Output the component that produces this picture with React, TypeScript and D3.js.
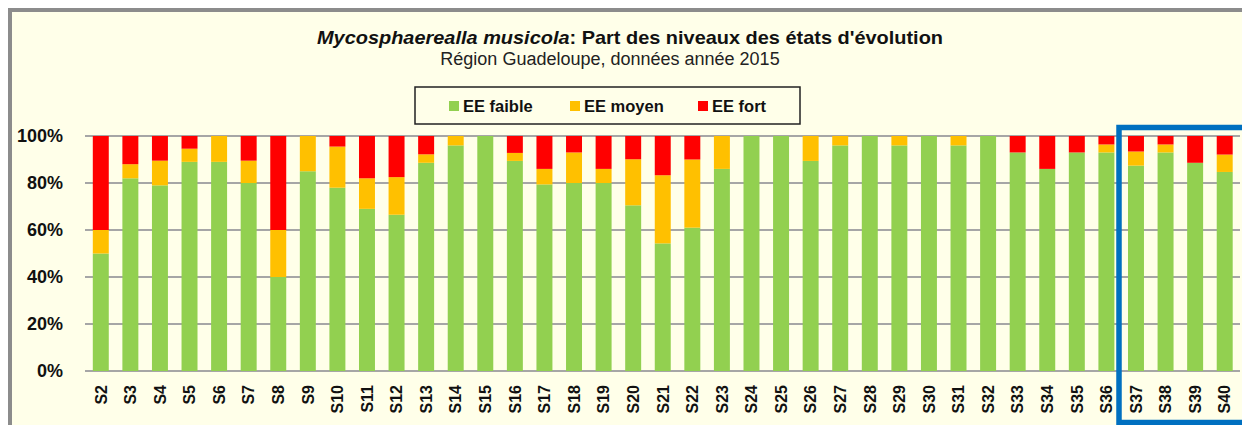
import React, { useEffect, useRef } from "react";
import * as d3 from "d3";

const weeks = [
  "S2", "S3", "S4", "S5", "S6", "S7", "S8", "S9", "S10", "S11", "S12", "S13", "S14",
  "S15", "S16", "S17", "S18", "S19", "S20", "S21", "S22", "S23", "S24", "S25", "S26",
  "S27", "S28", "S29", "S30", "S31", "S32", "S33", "S34", "S35", "S36", "S37", "S38",
  "S39", "S40",
];

// % EE faible / moyen / fort per week
const faible = [
  50, 82, 79, 89, 89, 80, 40, 85, 78, 69, 66.5, 88.6, 96, 100, 89.4, 79.4, 80, 80, 70.5,
  54.3, 61, 86, 100, 100, 89.4, 96, 100, 96, 100, 96, 100, 93, 86, 93, 93, 87.4, 93, 88.6,
  84.7,
];
const moyen = [
  10, 6, 10.5, 5.6, 11, 9.5, 20, 15, 17.5, 13, 16, 3.6, 4, 0, 3.4, 6.6, 13, 6, 19.6, 29,
  29, 14, 0, 0, 10.6, 4, 0, 4, 0, 4, 0, 0, 0, 0, 3.4, 6, 3.4, 0, 7.4,
];
const fort = [
  40, 12, 10.5, 5.4, 0, 10.5, 40, 0, 4.5, 18, 17.5, 7.8, 0, 0, 7.2, 14, 7, 14, 9.9, 16.7,
  10, 0, 0, 0, 0, 0, 0, 0, 0, 0, 0, 7, 14, 7, 3.6, 6.6, 3.6, 11.4, 7.9,
];

const seriesNames = ["EE faible", "EE moyen", "EE fort"];
const seriesColors = ["#92D050", "#FFC000", "#FF0000"];
const yTicks = [0, 20, 40, 60, 80, 100];

const font = "Liberation Sans, Arial, sans-serif";

function drawChart(container: SVGSVGElement) {
  const width = 1242;
  const height = 425;
  const svg = d3.select(container);
  svg.selectAll("*").remove();

  // chart area frame
  svg
    .append("rect")
    .attr("x", 10)
    .attr("y", 10)
    .attr("width", 1300)
    .attr("height", 500)
    .attr("fill", "#FFFFE9")
    .attr("stroke", "#8c8c8c")
    .attr("stroke-width", 4);

  const x = d3
    .scaleBand()
    .domain(weeks)
    .range([86, 1239.5])
    .paddingInner(0.46)
    .paddingOuter(0.23);

  const y = d3.scaleLinear().domain([0, 100]).range([371, 136]);

  // gridlines
  svg
    .append("g")
    .selectAll("line")
    .data(yTicks)
    .enter()
    .append("line")
    .attr("x1", 85)
    .attr("x2", 1240)
    .attr("y1", (d) => y(d))
    .attr("y2", (d) => y(d))
    .attr("stroke", "#a6a6a6")
    .attr("stroke-width", 2);

  // y labels
  svg
    .append("g")
    .selectAll("text")
    .data(yTicks)
    .enter()
    .append("text")
    .attr("x", 63)
    .attr("y", (d) => y(d))
    .attr("dy", "0.36em")
    .attr("text-anchor", "end")
    .style("font-family", font)
    .style("font-weight", "bold")
    .style("font-size", "18px")
    .attr("fill", "#111")
    .text((d) => `${d}%`);

  // stacked bars
  const table = weeks.map((w, i) => ({
    week: w,
    "EE faible": faible[i],
    "EE moyen": moyen[i],
    "EE fort": fort[i],
  }));
  const stack = d3.stack<any>().keys(seriesNames)(table);

  stack.forEach((layer, k) => {
    svg
      .append("g")
      .attr("fill", seriesColors[k])
      .selectAll("rect")
      .data(layer)
      .enter()
      .append("rect")
      .attr("x", (d: any) => x(d.data.week) as number)
      .attr("width", x.bandwidth())
      .attr("y", (d) => y(d[1]))
      .attr("height", (d) => y(d[0]) - y(d[1]));
  });

  // x labels
  svg
    .append("g")
    .selectAll("text")
    .data(weeks)
    .enter()
    .append("text")
    .attr("transform", (d) => `translate(${(x(d) as number) + x.bandwidth() / 2},385) rotate(-90)`)
    .attr("dy", "0.36em")
    .attr("text-anchor", "end")
    .style("font-family", font)
    .style("font-weight", "bold")
    .style("font-size", "16px")
    .attr("fill", "#111")
    .text((d) => d);

  // title
  const title = svg
    .append("text")
    .attr("x", 630)
    .attr("y", 44)
    .attr("text-anchor", "middle")
    .attr("textLength", 626)
    .attr("lengthAdjust", "spacingAndGlyphs")
    .style("font-family", font)
    .style("font-weight", "bold")
    .style("font-size", "19px")
    .attr("fill", "#111");
  title.append("tspan").style("font-style", "italic").text("Mycosphaerealla musicola");
  title.append("tspan").text(": Part des niveaux des états d'évolution");

  svg
    .append("text")
    .attr("x", 610)
    .attr("y", 65)
    .attr("text-anchor", "middle")
    .style("font-family", font)
    .style("font-size", "18px")
    .attr("fill", "#222")
    .text("Région Guadeloupe, données année 2015");

  // legend
  svg
    .append("rect")
    .attr("x", 415)
    .attr("y", 87)
    .attr("width", 385)
    .attr("height", 37)
    .attr("fill", "#FFFFE9")
    .attr("stroke", "#222")
    .attr("stroke-width", 1.5);

  const legendX = [449, 570, 698];
  seriesNames.forEach((name, i) => {
    svg
      .append("rect")
      .attr("x", legendX[i])
      .attr("y", 101)
      .attr("width", 10)
      .attr("height", 10)
      .attr("fill", seriesColors[i]);
    svg
      .append("text")
      .attr("x", legendX[i] + 14)
      .attr("y", 112)
      .style("font-family", font)
      .style("font-weight", "bold")
      .style("font-size", "16.5px")
      .attr("fill", "#111")
      .text(name);
  });

  // highlight box round last weeks
  svg
    .append("rect")
    .attr("x", 1119)
    .attr("y", 127.5)
    .attr("width", 200)
    .attr("height", 295)
    .attr("fill", "none")
    .attr("stroke", "#0070C0")
    .attr("stroke-width", 5.5);

  svg.attr("width", width).attr("height", height);
}

export default function App() {
  const ref = useRef<SVGSVGElement>(null);

  useEffect(() => {
    if (ref.current) drawChart(ref.current);
  }, []);

  return (
    <div style={{ position: "absolute", left: 0, top: 0, background: "#fff" }}>
      <svg ref={ref} width={1242} height={425} style={{ display: "block" }} />
    </div>
  );
}
